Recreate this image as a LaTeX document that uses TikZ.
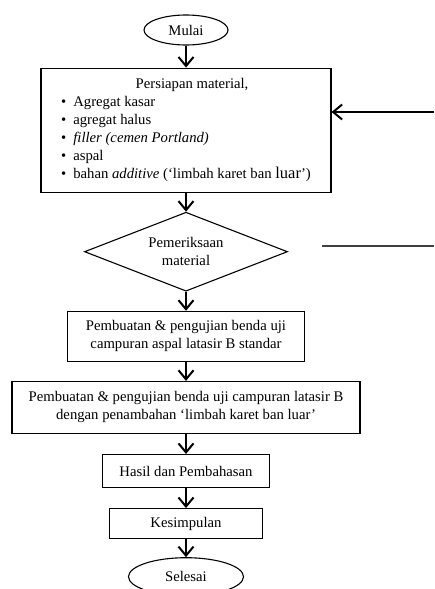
\documentclass[tikz,border=0pt]{standalone}
\usepackage{fontspec}
\setmainfont{Liberation Serif}
\usetikzlibrary{positioning,arrows.meta,shapes.geometric}

\begin{document}
\begin{tikzpicture}[x=1pt, y=-1pt,
            font=\fontsize{14.7}{18}\selectfont,
            >={Straight Barb[length=9pt,width=15pt,line width=2pt]},
            flow/.style={->, line width=2pt},
            endnode/.style={ellipse, draw=black, line width=1.1pt, inner sep=0pt},
            procnode/.style={rectangle, draw=black, line width=1.1pt, align=center, inner sep=0pt},
            checknode/.style={diamond, draw=black, line width=1.1pt, align=center, inner sep=0pt, aspect=2.57},
        ]
        \useasboundingbox (0,0) rectangle (434,589);
        \node[endnode, minimum width=84pt, minimum height=30pt]    (start)  at (186,30)                {Mulai};
        \node[procnode, minimum width=290pt, minimum height=124pt] (prep)   [below = 22pt of start]   {\begin{tabular}{@{}c@{\hspace{7pt}}l@{}}
            & \multicolumn{1}{c}{Persiapan material,}\\
            \textbullet & Agregat kasar\\
            \textbullet & agregat halus\\
            \textbullet & \textit{filler (cemen Portland)}\\
            \textbullet & aspal\\
            \textbullet & bahan \textit{additive} (`limbah karet ban {\fontsize{16.5}{18}\selectfont luar}')
        \end{tabular}};
        \node[checknode, minimum width=203pt, minimum height=79pt] (check)  [below = 19pt of prep]    {Pemeriksaan\\material};
        \node[procnode, minimum width=237pt, minimum height=50pt]  (std)    [below = 19pt of check]   {Pembuatan \& pengujian benda uji\\campuran aspal latasir B standar};
        \node[procnode, minimum width=348pt, minimum height=52pt]  (rubber) [below = 19pt of std]     {Pembuatan \& pengujian benda uji campuran latasir B\\dengan penambahan `limbah karet ban luar'};
        \node[procnode, minimum width=167pt, minimum height=33pt]  (result) [below = 20pt of rubber]  {Hasil dan Pembahasan};
        \node[procnode, minimum width=153pt, minimum height=30pt]  (concl)  [below = 20pt of result]  {\raisebox{-3pt}{Kesimpulan}};
        \node[endnode, minimum width=115pt, minimum height=38pt]   (finish) [below = 18pt of concl]   {Selesai};
        \coordinate (backin)  at (434,112);
        \coordinate (backout) at (434,246);
        \coordinate (backend) at (322,246);
        \draw[flow] (start) -- (prep);
        \draw[flow] (prep) -- (check);
        \draw[flow] (check) -- (std);
        \draw[flow] (std) -- (rubber);
        \draw[flow] (rubber) -- (result);
        \draw[flow] (result) -- (concl);
        \draw[flow] (concl) -- (finish);
        \draw[flow] (backin) -- (backin -| prep.east);
        \draw[line width=1.5pt, black!75] (backend) -- (backout);
    \end{tikzpicture}
\end{document}
